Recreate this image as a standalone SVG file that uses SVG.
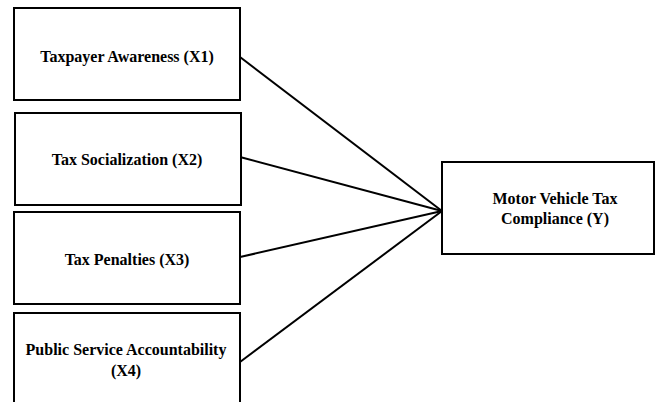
<svg xmlns="http://www.w3.org/2000/svg" width="655" height="402" viewBox="0 0 655 402">
<style>
.box{fill:#fff;stroke:#000;stroke-width:2}
.t{font-family:'Liberation Serif','Times New Roman',serif;font-weight:bold;font-size:16px;text-anchor:middle;fill:#000}
.c{stroke:#000;stroke-width:2;fill:none}
</style>
<rect width="655" height="402" fill="#fff"/>
<g id="connectors">
<line class="c" x1="240" y1="57" x2="442" y2="211"/>
<line class="c" x1="240" y1="157" x2="442" y2="211"/>
<line class="c" x1="240" y1="257" x2="442" y2="211"/>
<line class="c" x1="240" y1="362" x2="442" y2="211"/>
</g>
<g id="x1">
<rect class="box" x="14" y="8" width="226" height="92"/>
<text class="t" x="127" y="62">Taxpayer Awareness (X1)</text>
</g>
<g id="x2">
<rect class="box" x="15" y="113" width="226" height="92"/>
<text class="t" x="127" y="165">Tax Socialization (X2)</text>
</g>
<g id="x3">
<rect class="box" x="14" y="212" width="226" height="92"/>
<text class="t" x="127" y="265">Tax Penalties (X3)</text>
</g>
<g id="x4">
<rect class="box" x="14" y="313" width="226" height="100"/>
<text class="t" x="126" y="355">Public Service Accountability</text>
<text class="t" x="126" y="376">(X4)</text>
</g>
<g id="y">
<rect class="box" x="442" y="162" width="212" height="92"/>
<text class="t" x="555" y="204">Motor Vehicle Tax</text>
<text class="t" x="555" y="224">Compliance (Y)</text>
</g>
</svg>
